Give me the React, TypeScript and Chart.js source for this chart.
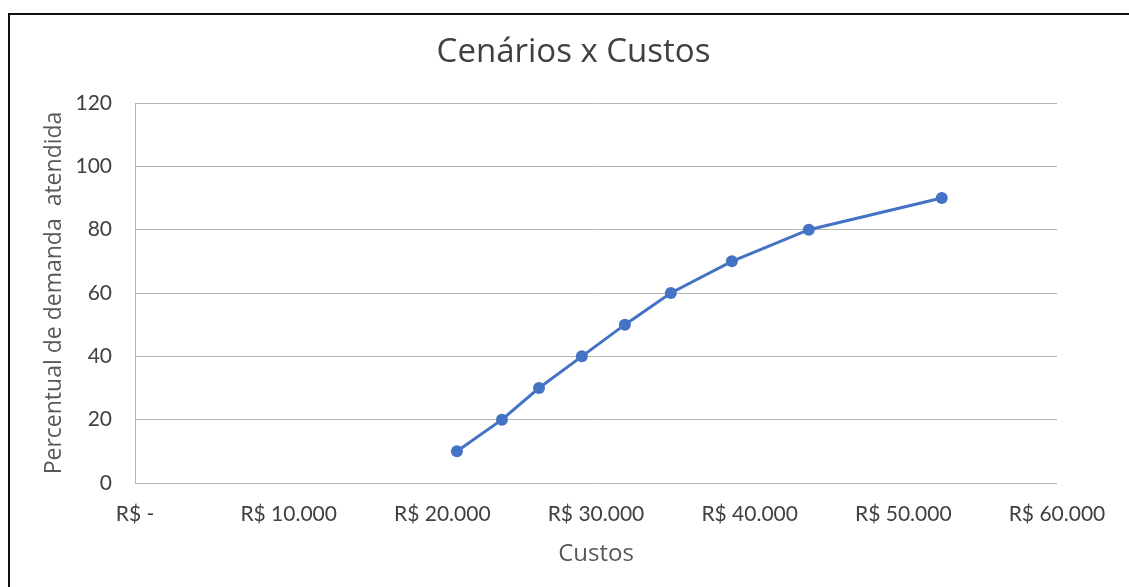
import React, { useEffect, useRef } from "react";
import { Chart, registerables } from "chart.js";

Chart.register(...registerables);

const chartTitle = "Cenários x Custos";
const xAxisTitle = "Custos";
const yAxisTitle = "Percentual de demanda  atendida";
const costs = [20950, 23880, 26290, 29080, 31880, 34870, 38840, 43850, 52500];
const percentServed = [10, 20, 30, 40, 50, 60, 70, 80, 90];
const xTicks = [0, 10000, 20000, 30000, 40000, 50000, 60000];
const yTicks = [0, 20, 40, 60, 80, 100, 120];

const formatBRL = (v: number) =>
  v === 0 ? "R$ -" : "R$ " + v.toString().replace(/\B(?=(\d{3})+(?!\d))/g, ".");

const titlePlugin = {
  id: "frameTitle",
  afterDraw(chart: any) {
    const ctx = chart.ctx;
    ctx.save();
    ctx.fillStyle = "#404040";
    ctx.font = "33px 'Open Sans', sans-serif";
    ctx.textAlign = "center";
    ctx.textBaseline = "middle";
    ctx.fillText(chartTitle, chart.width / 2 + 9, 53);
    ctx.restore();
  },
};

export default function App() {
  const ref = useRef<HTMLCanvasElement | null>(null);

  useEffect(() => {
    if (!ref.current) return;
    const points = costs.map((c, i) => ({ x: c, y: percentServed[i] }));
    const chart = new Chart(ref.current, {
      type: "scatter",
      data: {
        datasets: [
          {
            data: points,
            showLine: true,
            borderColor: "#4472C4",
            backgroundColor: "#4472C4",
            borderWidth: 3,
            pointRadius: 6,
            pointHoverRadius: 6,
            pointBorderWidth: 0,
          },
        ],
      },
      plugins: [titlePlugin],
      options: {
        responsive: false,
        animation: false,
        devicePixelRatio: 1,
        layout: { padding: { left: 18, right: 72, top: 103, bottom: 0 } },
        plugins: {
          legend: { display: false },
          tooltip: { enabled: false },
          title: { display: false },
        },
        scales: {
          x: {
            type: "linear",
            min: xTicks[0],
            max: xTicks[xTicks.length - 1],
            afterBuildTicks: (scale: any) => {
              scale.ticks = xTicks.map((v) => ({ value: v }));
            },
            afterFit: (scale: any) => {
              scale.height = 104;
            },
            grid: { display: false, drawTicks: false },
            border: { display: false },
            ticks: {
              padding: 19,
              color: "#404040",
              font: { family: "Lato, sans-serif", size: 21 },
              maxRotation: 0,
              autoSkip: false,
              callback: (v: any) => formatBRL(Number(v)),
            },
            title: {
              display: true,
              text: xAxisTitle,
              color: "#595959",
              font: { family: "'Open Sans', sans-serif", size: 24 },
              padding: { top: 0, bottom: 18 },
            },
          },
          y: {
            min: yTicks[0],
            max: yTicks[yTicks.length - 1],
            afterBuildTicks: (scale: any) => {
              scale.ticks = yTicks.map((v) => ({ value: v }));
            },
            afterFit: (scale: any) => {
              scale.width = 117;
            },
            grid: { color: "#b4b4b4", lineWidth: 1, drawTicks: false },
            border: { display: true, color: "#b4b4b4", width: 1 },
            ticks: {
              padding: 23,
              color: "#404040",
              font: { family: "Lato, sans-serif", size: 21 },
            },
            title: {
              display: true,
              text: yAxisTitle,
              color: "#595959",
              font: { family: "'Open Sans', sans-serif", size: 23 },
              padding: { top: 23, bottom: 0 },
            },
          },
        },
      },
    });
    return () => chart.destroy();
  }, []);

  return (
    <div
      style={{
        position: "fixed",
        left: 0,
        top: 0,
        width: 1129,
        height: 587,
        overflow: "hidden",
        background: "#fff",
      }}
    >
      <div
        style={{
          position: "absolute",
          left: 8,
          top: 13,
          width: 1300,
          height: 800,
          border: "2px solid #111",
          boxSizing: "border-box",
        }}
      />
      <canvas
        ref={ref}
        width={1129}
        height={587}
        style={{ position: "absolute", left: 0, top: 0, width: 1129, height: 587 }}
      />
    </div>
  );
}
